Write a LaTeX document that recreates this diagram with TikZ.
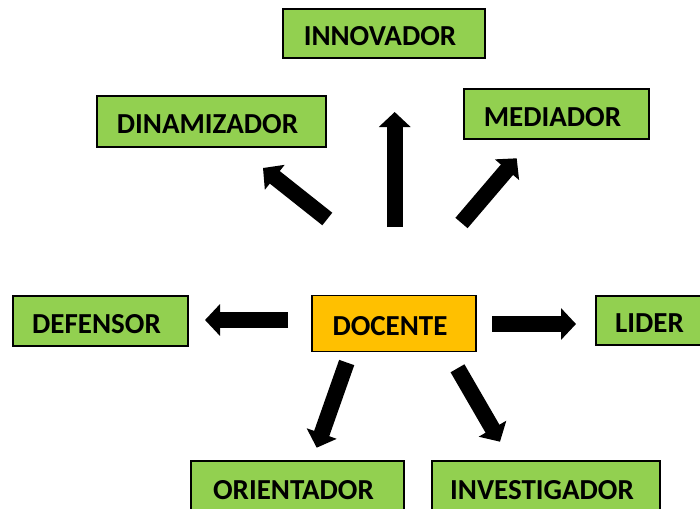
\documentclass[tikz,border=0pt]{standalone}
\usepackage{fontspec}
\setmainfont{Carlito}
\usetikzlibrary{arrows.meta}
\definecolor{boxgreen}{HTML}{92D050}
\definecolor{boxorange}{HTML}{FFC000}
\tikzset{
  rolebox/.style={draw=black, line width=1.3pt, fill=boxgreen, inner sep=0pt,
    font=\fontsize{29}{30}\selectfont\bfseries, text height=24pt, text depth=0pt,
    execute at end node={\hspace{8pt}}},
  centerbox/.style={rolebox, fill=boxorange},
  blockarrow/.style={line width=16pt, black, -{Triangle[length=15pt,width=31pt]}}
}
\begin{document}
\begin{tikzpicture}[x=1pt,y=-1pt]
\useasboundingbox (0,0) rectangle (700,508);
\clip (0,0) rectangle (700,508);
% boxes
\node[rolebox, minimum width=202pt, minimum height=49pt] (innov) at (384,33.5) {INNOVADOR};
\node[rolebox, minimum width=229pt, minimum height=51pt] (dinam) at (211.5,121.5) {DINAMIZADOR};
\node[rolebox, minimum width=185pt, minimum height=50pt] (media) at (556.5,114) {MEDIADOR};
\node[rolebox, minimum width=175pt, minimum height=50pt] (defen) at (100.5,321) {DEFENSOR};
\node[centerbox, minimum width=164pt, minimum height=56pt] (docen) at (394,323.7) {DOCENTE};
\node[rolebox, minimum width=115pt, minimum height=49pt] (lider) at (653.5,320.5) {LIDER};
\node[rolebox, minimum width=213pt, minimum height=52pt] (orien) at (297.5,487) {ORIENTADOR};
\node[rolebox, minimum width=228pt, minimum height=52pt] (inves) at (546,487) {INVESTIGADOR};
% arrow end points
\coordinate (upT) at (394.7,227);   \coordinate (upH) at (394.7,112);
\coordinate (ulT) at (327.3,219);   \coordinate (ulH) at (263,168);
\coordinate (urT) at (461.5,223);   \coordinate (urH) at (516.7,158.3);
\coordinate (lfT) at (288,320);     \coordinate (lfH) at (205,320);
\coordinate (rtT) at (492,324);     \coordinate (rtH) at (576,324);
\coordinate (dlT) at (346.7,362.5); \coordinate (dlH) at (316.7,447.7);
\coordinate (drT) at (457.5,368.3); \coordinate (drH) at (500,441.7);
% arrows
\draw[blockarrow] (upT) -- (upH);
\draw[blockarrow] (ulT) -- (ulH);
\draw[blockarrow] (urT) -- (urH);
\draw[blockarrow] (lfT) -- (lfH);
\draw[blockarrow] (rtT) -- (rtH);
\draw[blockarrow] (dlT) -- (dlH);
\draw[blockarrow] (drT) -- (drH);
\end{tikzpicture}
\end{document}
